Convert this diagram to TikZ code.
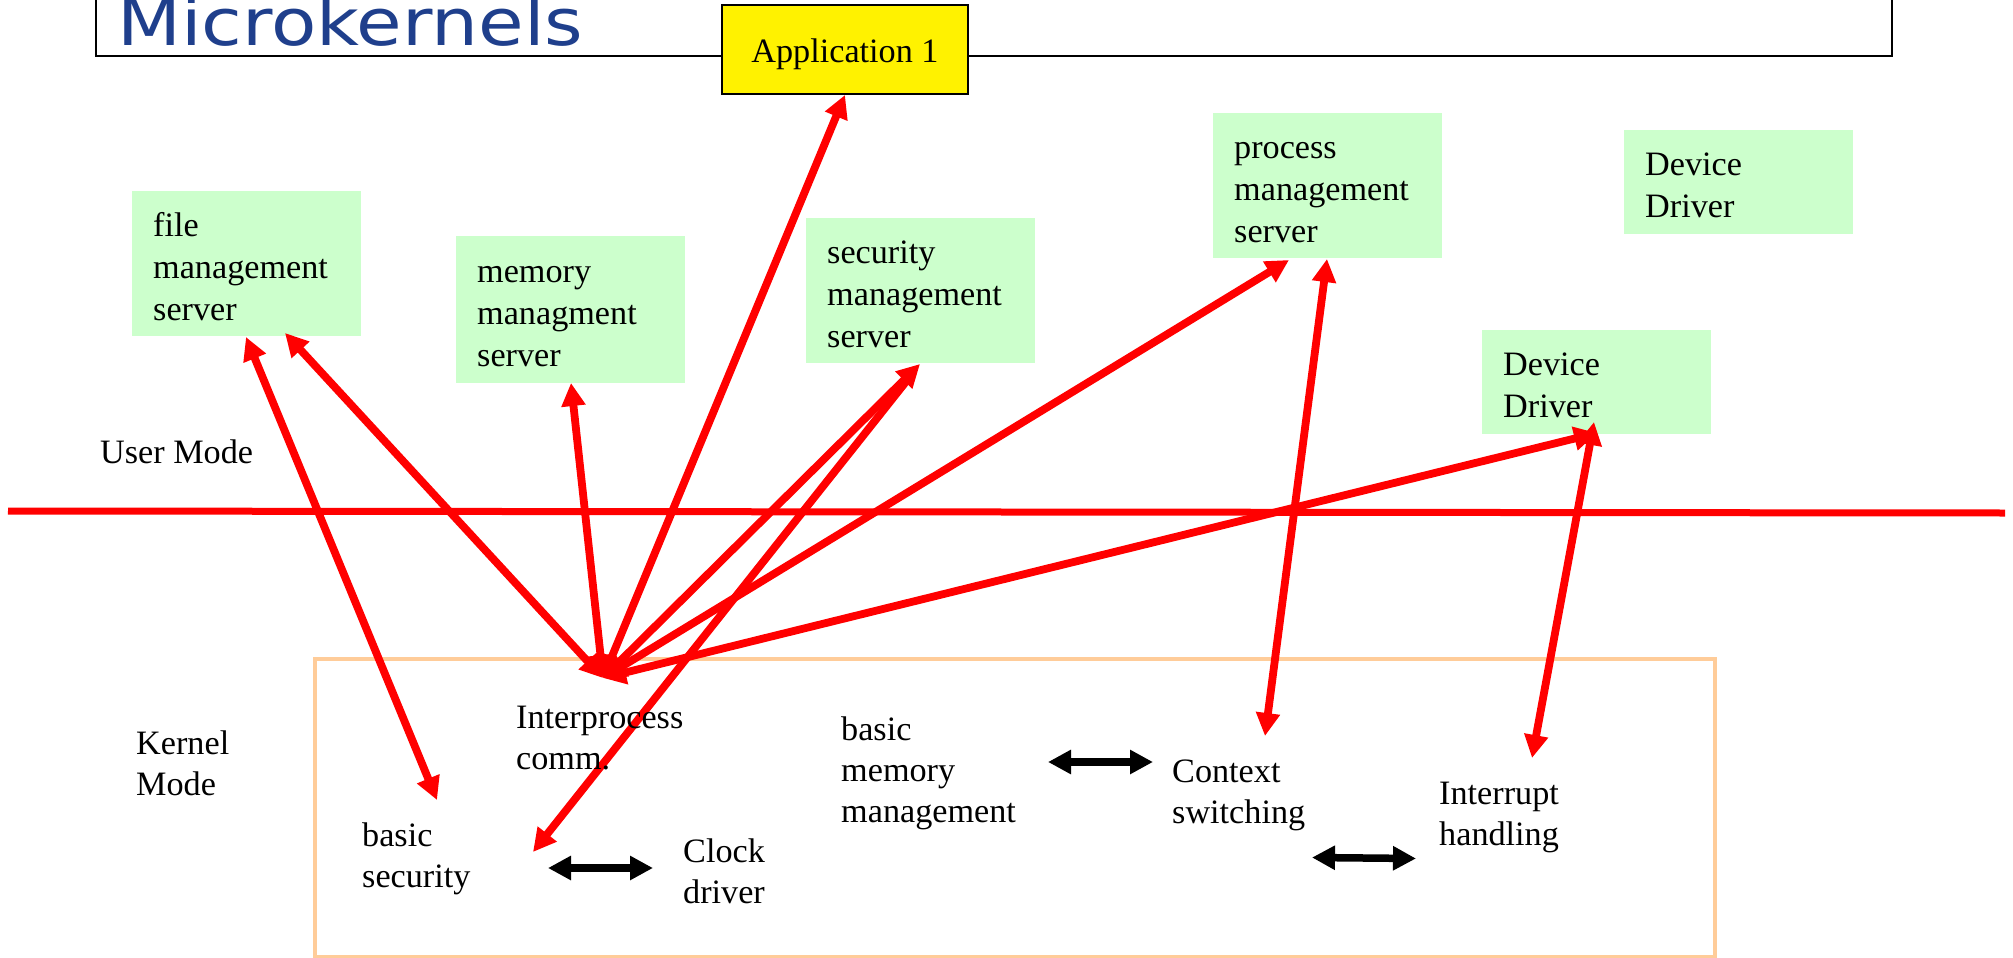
\documentclass[tikz,border=0pt]{standalone}
\usepackage{graphicx}
\usepackage{fontspec}
\setmainfont{Liberation Serif}
\newfontfamily\titlefont{DejaVu Sans}
\usetikzlibrary{arrows.meta,calc}
\definecolor{srvgreen}{HTML}{CCFFCC}
\definecolor{kernorange}{HTML}{FFCC99}
\definecolor{titleblue}{HTML}{1F3F8C}
\begin{document}
\begin{tikzpicture}[x=1pt,y=-1pt,
  >={Triangle[length=23pt,width=23pt]},
  txt/.style={font=\fontsize{34.2}{41}\selectfont, align=left, inner sep=0pt, anchor=north west},
  srv/.style={fill=srvgreen, font=\fontsize{34.2}{42}\selectfont, text width=187pt, align=left,
              inner xsep=21pt, inner ysep=0pt, minimum width=229pt, anchor=north west,
              text height=29pt},
  srvthree/.style={srv, text depth=84pt},
  srvtwo/.style={srv, text depth=42pt},
  rarrow/.style={draw=red, fill=red, line width=7.8pt},
  karrow/.style={draw=black, fill=black, line width=7.5pt},
  appbox/.style={draw=black, line width=2pt, fill=yellow, minimum width=246pt, minimum height=89pt,
                 font=\fontsize{34.2}{41}\selectfont, inner sep=0pt, text height=30pt, text depth=4pt}
]
\useasboundingbox (0,0) rectangle (2013,958);

% title frame and title
\draw[line width=2pt] (96,-10) rectangle (1892,56);
\node[anchor=base west, inner sep=0pt, text=titleblue, font=\titlefont\fontsize{65}{78}\selectfont]
  (title) at (117,46) {\scalebox{1.14}[1]{Microkernels}};

% application box
\node[appbox] (app) at (845,49.5) {Application 1};

% user/kernel separator
\coordinate (sepL) at (8,511);
\coordinate (sepR) at (2005,513);
\draw[red, line width=7pt] (sepL) -- (sepR);

% kernel box
\node[draw=kernorange, line width=4pt, minimum width=1400pt, minimum height=298pt, inner sep=0pt, anchor=north west] (kernel) at (313,657) {};

% servers
\node[srvthree, minimum height=145pt] (filesrv) at (132,191) {file\\management\\server};
\node[srvthree, minimum height=147pt] (memsrv) at (456,236) {memory\\managment\\server};
\node[srvthree, minimum height=145pt] (secsrv) at (806,218) {security\\management\\server};
\node[srvthree, minimum height=145pt] (procsrv) at (1213,113) {process\\management\\server};
\node[srvtwo, minimum height=104pt] (dd1) at (1624,130) {Device\\Driver};
\node[srvtwo, minimum height=104pt] (dd2) at (1482,330) {Device\\Driver};

% arrow end points
\coordinate (hub) at (603,678);
\coordinate (fileA) at (285,333);
\coordinate (fileB) at (246,337);
\coordinate (memA) at (571,383);
\coordinate (appA) at (845,95);
\coordinate (secA) at (920,364);
\coordinate (procA) at (1289,260);
\coordinate (procB) at (1327,259);
\coordinate (ddA) at (1597,433);
\coordinate (ddB) at (1594,422);
\coordinate (bsecA) at (437,800);
\coordinate (clkA) at (533,852);
\coordinate (ctxA) at (1265,736);
\coordinate (intA) at (1532,758);

% red arrows
\draw[rarrow,<->] (hub) -- (fileA);
\draw[rarrow,<->] (hub) -- (memA);
\draw[rarrow,<->] (hub) -- (appA);
\draw[rarrow,<->] (hub) -- (secA);
\draw[rarrow,<->] (hub) -- (procA);
\draw[rarrow,<->] (hub) -- (ddA);
\draw[rarrow,<->] (fileB) -- (bsecA);
\draw[rarrow,->] ($(secA)!12pt!(clkA)$) -- (clkA);
\draw[rarrow,<->] (procB) -- (ctxA);
\draw[rarrow,<->] (ddB) -- (intA);

% black arrows
\coordinate (k1a) at (548,868);
\coordinate (k1b) at (653,868);
\coordinate (k2a) at (1048,762);
\coordinate (k2b) at (1153,762);
\coordinate (k3a) at (1312,857.5);
\coordinate (k3b) at (1416,858.5);
\draw[karrow,<->] (k1a) -- (k1b);
\draw[karrow,<->] (k2a) -- (k2b);
\draw[karrow,<->] (k3a) -- (k3b);

% mode labels
\node[txt] (umode) at (100,440) {User Mode};
\node[txt] (kmode) at (136,731) {Kernel\\Mode};

% kernel components
\node[txt] (ipc) at (516,705.5) {Interprocess\\comm.};
\node[txt] (bsec) at (362,822.5) {basic\\security};
\node[txt] (clk) at (683,838.5) {Clock\\driver};
\node[txt] (bmem) at (841,717) {basic\\memory\\management};
\node[txt] (ctx) at (1172,759.5) {Context\\switching};
\node[txt] (intr) at (1439,781.5) {Interrupt\\handling};
\end{tikzpicture}
\end{document}
